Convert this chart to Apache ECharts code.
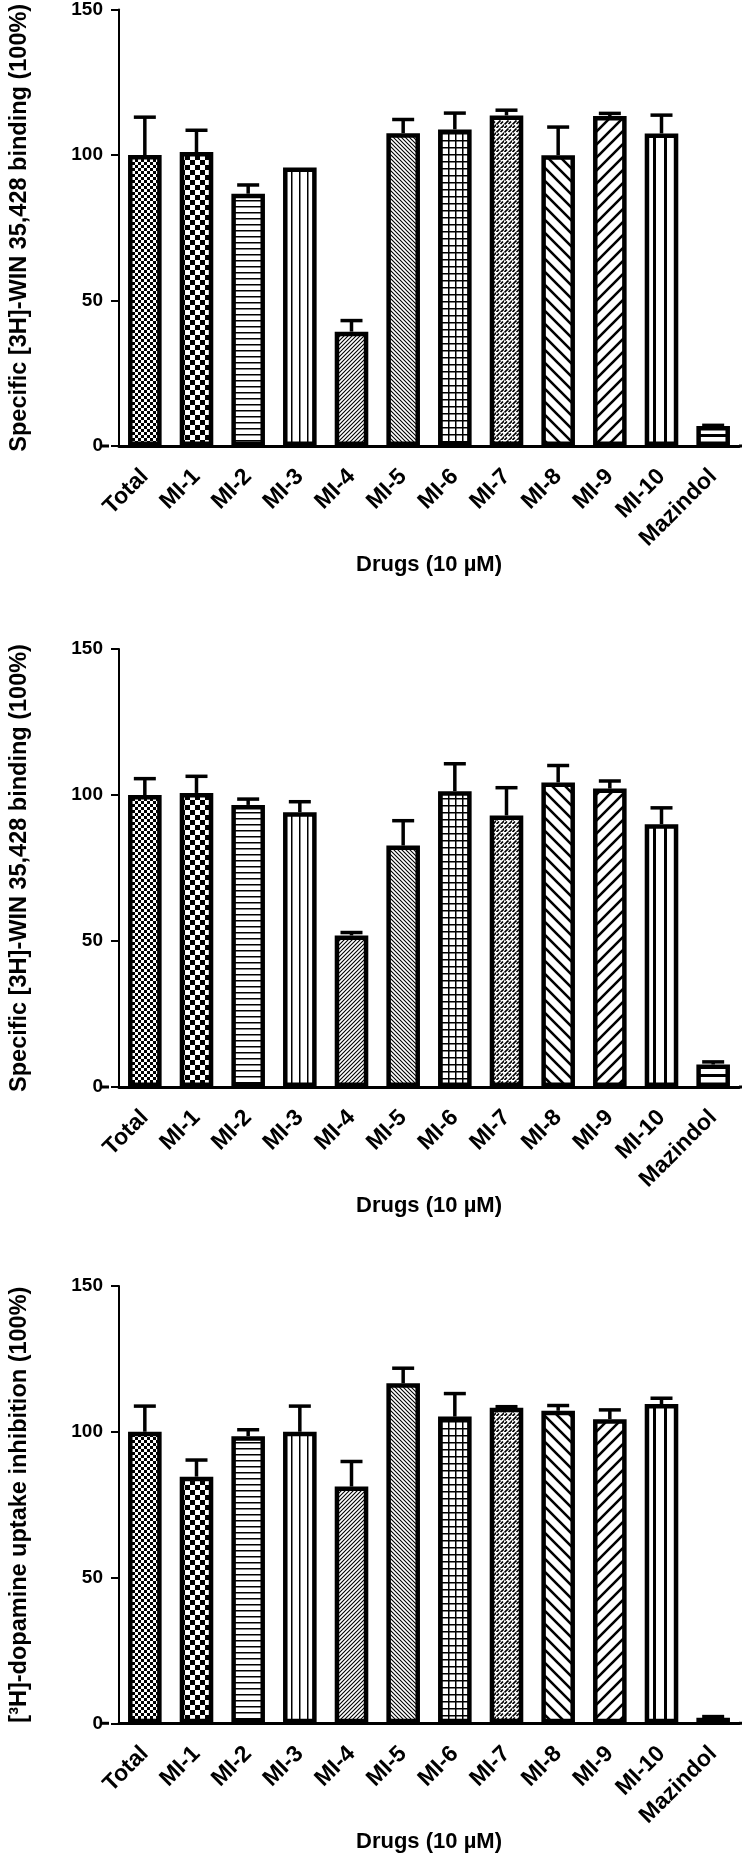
<!DOCTYPE html>
<html>
<head>
<meta charset="utf-8">
<script src="https://cdn.jsdelivr.net/npm/echarts@6/dist/echarts.min.js"></script>
<style>
  html, body { margin: 0; padding: 0; background: #fff; }
  #chart { width: 742px; height: 1854px; }
</style>
</head>
<body>
<div id="chart"></div>
<script>
// ---------------- DATA ----------------
const categories = ['Total', 'MI-1', 'MI-2', 'MI-3', 'MI-4', 'MI-5', 'MI-6', 'MI-7', 'MI-8', 'MI-9', 'MI-10', 'Mazindol'];

// Panel 1: Specific [3H]-WIN 35,428 binding
const binding1Mean = [100, 101, 86.7, 95.7, 39.3, 107.5, 108.8, 113.6, 99.9, 113.4, 107.4, 6.9];
const binding1Err  = [13.0, 7.5, 3.0, 0, 3.8, 4.7, 5.6, 1.8, 9.7, 0.9, 6.3, 0.2];

// Panel 2: Specific [3H]-WIN 35,428 binding
const binding2Mean = [100, 100.7, 96.6, 94.1, 51.9, 82.7, 101.3, 93.0, 104.3, 102.2, 90.0, 7.7];
const binding2Err  = [5.6, 5.7, 2.0, 3.6, 1.0, 8.5, 9.4, 9.5, 5.8, 2.6, 5.6, 0.9];

// Panel 3: [3H]-dopamine uptake inhibition
const uptakeMean = [100, 84.6, 98.5, 100, 81.2, 116.6, 105.2, 108.2, 107.2, 104.3, 109.5, 1.9];
const uptakeErr  = [8.8, 5.7, 2.2, 8.8, 8.6, 5.2, 7.9, 0.4, 1.8, 3.2, 2.0, 0.4];

const yMin = 0, yMax = 150, yStep = 50;
const yTitles = [
  'Specific [3H]-WIN 35,428 binding (100%)',
  'Specific [3H]-WIN 35,428 binding (100%)',
  '[\u00B3H]-dopamine uptake inhibition (100%)'
];
const xTitle = 'Drugs (10 \u00B5M)';

// ---------------- PATTERNS ----------------
function tile(w, h, draw) {
  const c = document.createElement('canvas');
  c.width = w; c.height = h;
  const g = c.getContext('2d');
  g.fillStyle = '#fff'; g.fillRect(0, 0, w, h);
  g.fillStyle = '#000'; g.strokeStyle = '#000';
  draw(g, w, h);
  return { image: c, repeat: 'repeat' };
}
function diag(g, p, up, lw) {
  g.lineWidth = lw;
  g.beginPath();
  for (let k = -1; k <= 1; k++) {
    if (up) { g.moveTo(k * p - 1, p + 1); g.lineTo(k * p + p + 1, -1); }
    else { g.moveTo(k * p - 1, -1); g.lineTo(k * p + p + 1, p + 1); }
  }
  g.stroke();
}
const patterns = [
  tile(6, 6, g => { g.fillRect(0, 0, 3, 3); g.fillRect(3, 3, 3, 3); }),          // Total: fine checker
  tile(10, 10, g => { g.fillRect(0, 0, 5, 5); g.fillRect(5, 5, 5, 5); }),        // MI-1: checker
  tile(6, 6, g => { g.fillRect(0, 2, 6, 1.5); }),                                // MI-2: horizontal lines
  tile(8, 8, g => { g.fillRect(3, 0, 1.5, 8); }),                                // MI-3: vertical lines
  tile(4, 4, g => diag(g, 4, true, 1.1)),                                        // MI-4: dense /
  tile(4, 4, g => diag(g, 4, false, 1.1)),                                       // MI-5: dense \
  tile(7, 7, g => { g.fillRect(0, 0, 7, 1.5); g.fillRect(0, 0, 1.5, 7); }),      // MI-6: grid
  tile(8, 8, g => {                                                              // MI-7: dashed /
    g.lineWidth = 1.7; g.beginPath();
    g.moveTo(0.5, 4.5); g.lineTo(4.5, 0.5);
    g.moveTo(4.5, 8.5); g.lineTo(8.5, 4.5);
    g.moveTo(4.5, 4.0); g.lineTo(7.0, 1.5);
    g.moveTo(0.5, 8.0); g.lineTo(3.0, 5.5);
    g.stroke();
  }),
  tile(13, 13, g => diag(g, 13, false, 2.6)),                                    // MI-8: wide \
  tile(13, 13, g => diag(g, 13, true, 2.6)),                                     // MI-9: wide /
  tile(11, 11, g => { g.fillRect(4, 0, 3, 11); }),                               // MI-10: thick vertical
  tile(10, 10, g => { g.fillRect(0, 4, 10, 3); })                                // Mazindol: thick horizontal
];

// ---------------- CHART ----------------
const FONT = "'Liberation Sans', Arial, sans-serif";
const panels = [
  { mean: binding1Mean, err: binding1Err, top: 8 },
  { mean: binding2Mean, err: binding2Err, top: 649 },
  { mean: uptakeMean, err: uptakeErr, top: 1286 }
];
const GRID_LEFT = 109, GRID_RIGHT = 3, GRID_H = 438;

const grids = [], xAxes = [], yAxes = [], series = [];
panels.forEach((p, k) => {
  grids.push({ left: GRID_LEFT, right: GRID_RIGHT, top: p.top, height: GRID_H });
  xAxes.push({
    type: 'category', gridIndex: k, data: categories,
    axisLine: { lineStyle: { color: '#000', width: 3 } },
    axisTick: { alignWithLabel: true, length: 8, lineStyle: { color: '#000', width: 2 } },
    axisLabel: { rotate: 45, margin: 27, color: '#000', fontSize: 23, fontWeight: 'bold', fontFamily: FONT, interval: 0 },
    name: xTitle, nameLocation: 'middle', nameGap: 104,
    nameTextStyle: { color: '#000', fontSize: 22, fontWeight: 'bold', fontFamily: FONT }
  });
  yAxes.push({
    type: 'value', gridIndex: k, min: yMin, max: yMax, interval: yStep,
    axisLine: { show: true, lineStyle: { color: '#000', width: 2 } },
    axisTick: { show: true, length: 8, lineStyle: { color: '#000', width: 2 } },
    splitLine: { show: false },
    axisLabel: { margin: 16, color: '#000', fontSize: 19, fontWeight: 'bold', fontFamily: FONT },
    name: yTitles[k], nameLocation: 'middle', nameRotate: 90, nameGap: 87,
    nameTextStyle: { color: '#000', fontSize: 23.5, fontWeight: 'bold', fontFamily: FONT }
  });
  series.push({
    type: 'bar', xAxisIndex: k, yAxisIndex: k, barWidth: '65%',
    data: p.mean.map((v, i) => ({ value: v, itemStyle: { color: patterns[i] } })),
    itemStyle: { borderColor: '#000', borderWidth: 4.5 },
    silent: true
  });
  series.push({
    type: 'custom', xAxisIndex: k, yAxisIndex: k, z: 5, silent: true,
    data: p.mean.map((v, i) => [i, v, p.err[i]]),
    encode: { x: 0, y: 1 },
    renderItem: (params, api) => {
      const i = api.value(0), m = api.value(1), e = api.value(2);
      if (!(e > 0)) return null;
      const base = api.coord([i, m]);
      const top = api.coord([i, m + e]);
      const hw = 11;
      return {
        type: 'group',
        children: [
          { type: 'line', shape: { x1: base[0], y1: base[1], x2: top[0], y2: top[1] }, style: { stroke: '#000', lineWidth: 3.5 } },
          { type: 'line', shape: { x1: top[0] - hw, y1: top[1], x2: top[0] + hw, y2: top[1] }, style: { stroke: '#000', lineWidth: 3.5, lineCap: 'butt' } }
        ]
      };
    }
  });
});

const chart = echarts.init(document.getElementById('chart'), null, { renderer: 'canvas' });
chart.setOption({
  animation: false,
  backgroundColor: '#fff',
  grid: grids, xAxis: xAxes, yAxis: yAxes, series: series
});

// extend x-axis baseline slightly beyond the plot area (GraphPad style)
const W = chart.getWidth();
const ext = panels.map((p, k) => {
  const y0 = chart.convertToPixel({ yAxisIndex: k }, 0);
  return [
    { type: 'line', shape: { x1: GRID_LEFT - 9, y1: y0, x2: GRID_LEFT, y2: y0 }, style: { stroke: '#000', lineWidth: 3 } },
    { type: 'line', shape: { x1: W - GRID_RIGHT, y1: y0, x2: W, y2: y0 }, style: { stroke: '#000', lineWidth: 3 } }
  ];
}).flat();
chart.setOption({ graphic: ext });
</script>
</body>
</html>
